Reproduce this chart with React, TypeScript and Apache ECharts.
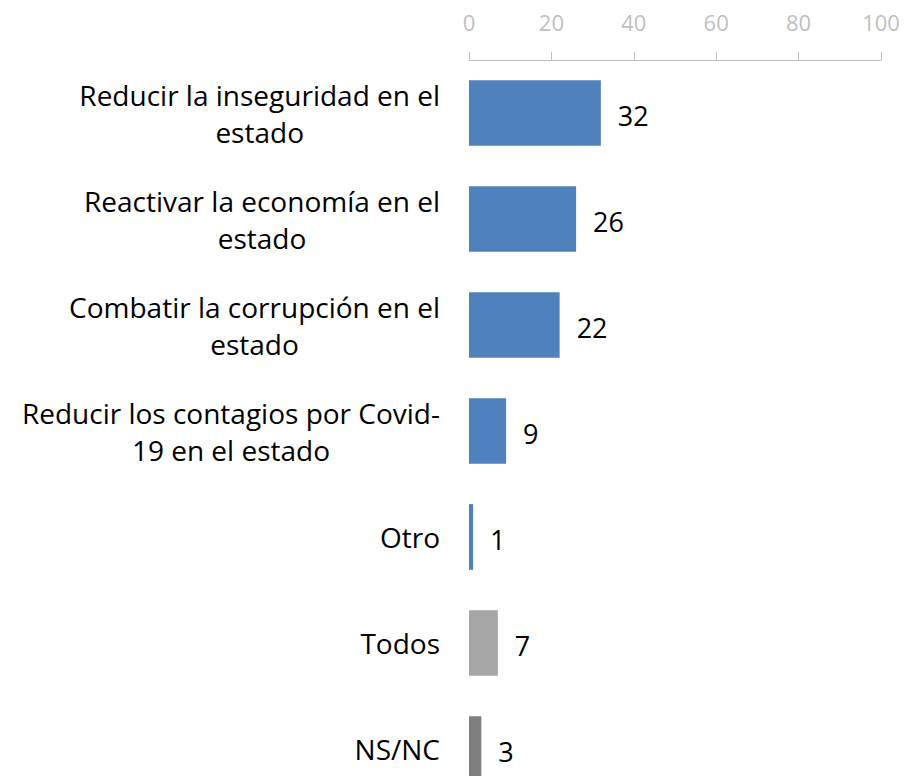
import React, { useEffect, useRef } from "react";
import * as echarts from "echarts";

const categories = [
  "Reducir la inseguridad en el\nestado",
  "Reactivar la economía en el\nestado",
  "Combatir la corrupción en el\nestado",
  "Reducir los contagios por Covid-\n19 en el estado",
  "Otro",
  "Todos",
  "NS/NC",
];
const values = [32, 26, 22, 9, 1, 7, 3];
const barColors = ["#4F81BD", "#4F81BD", "#4F81BD", "#4F81BD", "#4F81BD", "#A5A5A5", "#7F7F7F"];
const axisTicks = [0, 20, 40, 60, 80, 100];

export default function App() {
  const ref = useRef<HTMLDivElement>(null);
  useEffect(() => {
    if (!ref.current) return;
    const chart = echarts.init(ref.current, null, { renderer: "svg" });
    const font = "'Open Sans', 'Noto Sans', sans-serif";
    chart.setOption({
      animation: false,
      textStyle: { fontFamily: font },
      grid: { left: 469, right: 24, top: 60, height: 742, containLabel: false },
      xAxis: {
        type: "value",
        position: "top",
        min: axisTicks[0],
        max: axisTicks[axisTicks.length - 1],
        interval: 20,
        axisLine: { show: true, lineStyle: { color: "#BFBFBF", width: 1 } },
        axisTick: { show: true, length: 8, lineStyle: { color: "#BFBFBF" } },
        axisLabel: { color: "#BFBFBF", fontSize: 22, margin: 27, fontFamily: font },
        splitLine: { show: false },
      },
      yAxis: {
        type: "category",
        inverse: true,
        data: categories,
        axisLine: { show: false },
        axisTick: { show: false },
        axisLabel: {
          color: "#000000",
          fontSize: 28,
          lineHeight: 37,
          margin: 29,
          align: "right",
          fontFamily: font,
          formatter: (v: string) =>
            v
              .split("\n")
              .map((l) => `{c|${l}}`)
              .join("\n"),
          rich: {
            c: {
              align: "center",
              fontSize: 28,
              lineHeight: 37,
              color: "#000000",
              fontFamily: font,
            },
          },
        },
      },
      series: [
        {
          type: "bar",
          data: values.map((v, i) => ({ value: v, itemStyle: { color: barColors[i] } })),
          barWidth: "62%",
          label: {
            show: true,
            position: "right",
            distance: 17,
            color: "#000000",
            fontSize: 27,
            fontFamily: font,
            offset: [0, 2],
          },
        },
      ],
    });
    return () => chart.dispose();
  }, []);
  return (
    <div
      ref={ref}
      style={{ position: "fixed", left: 0, top: 0, width: 905, height: 810, background: "#fff" }}
    />
  );
}
